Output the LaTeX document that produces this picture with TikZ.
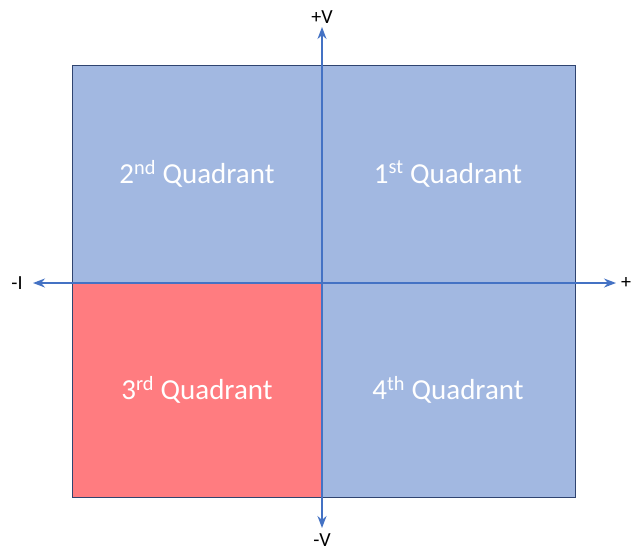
\documentclass[tikz,border=0pt]{standalone}
\usepackage{fontspec}
\setmainfont{Carlito}
\usetikzlibrary{arrows.meta}
\definecolor{qblue}{HTML}{A2B8E1}
\definecolor{qred}{HTML}{FF7C80}
\definecolor{qedge}{HTML}{2F4470}
\definecolor{axisblue}{HTML}{4472C4}
\tikzset{
  quad/.style={draw=qedge, line width=1pt},
  qlabel/.style={text=white, font=\fontsize{29}{34}\selectfont},
  axis/.style={draw=axisblue, line width=1.6pt, -{Stealth[length=12pt,width=9pt]}},
  alabel/.style={text=black, font=\fontsize{20}{24}\selectfont, inner sep=1pt}
}
\begin{document}
\begin{tikzpicture}[x=1pt,y=-1pt]
\useasboundingbox (0,0) rectangle (631,550);
\fill[white] (0,0) rectangle (631,550);
\path[quad, fill=qblue] (72,65) rectangle (322,283);
\path[quad, fill=qblue] (322,65) rectangle (575,283);
\path[quad, fill=qred] (72,283) rectangle (322,497);
\path[quad, fill=qblue] (322,283) rectangle (575,497);
\node[qlabel] (q2) at (197,174) {2\textsuperscript{nd} Quadrant};
\node[qlabel] (q1) at (448,174) {1\textsuperscript{st} Quadrant};
\node[qlabel] (q3) at (197,390) {3\textsuperscript{rd} Quadrant};
\node[qlabel] (q4) at (448,390) {4\textsuperscript{th} Quadrant};
\coordinate (o) at (322,283);
\coordinate (top) at (322,27);
\coordinate (bot) at (322,528);
\coordinate (lft) at (33,283);
\coordinate (rgt) at (616,283);
\draw[axis] (o) -- (top);
\draw[axis] (o) -- (bot);
\draw[axis] (o) -- (lft);
\draw[axis] (o) -- (rgt);
\node[alabel] (pv) at (322,17) {+V};
\node[alabel] (mv) at (322,540) {-V};
\node[alabel] (mi) at (17,283) {-I};
\node[alabel] (pi) at (626,283) {+};
\end{tikzpicture}
\end{document}
